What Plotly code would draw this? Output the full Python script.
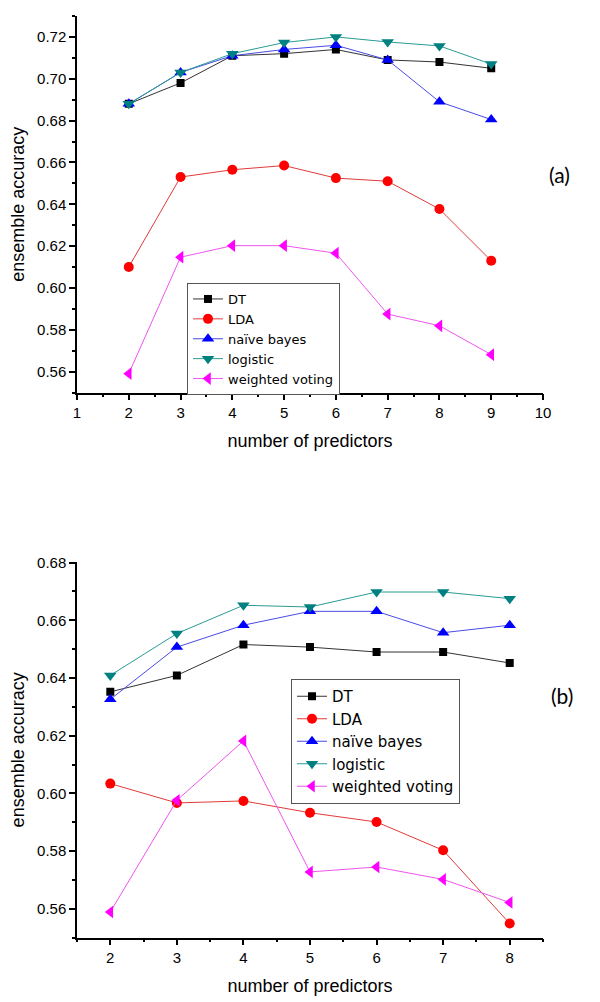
import plotly.graph_objects as go

# ---------------- data ----------------
series_names = ["DT", "LDA", "naïve bayes", "logistic", "weighted voting"]

# panel (a)
x_a = [2, 3, 4, 5, 6, 7, 8, 9]
dt_a = [0.688, 0.698, 0.711, 0.712, 0.714, 0.709, 0.708, 0.705]
lda_a = [0.610, 0.653, 0.6565, 0.6585, 0.6525, 0.651, 0.6377, 0.613]
nb_a = [0.688, 0.703, 0.711, 0.714, 0.716, 0.709, 0.689, 0.6805]
log_a = [0.688, 0.703, 0.712, 0.7173, 0.720, 0.7176, 0.7157, 0.707]
wv_a = [0.559, 0.6147, 0.6202, 0.6202, 0.6166, 0.5875, 0.5819, 0.5681]

# panel (b)
x_b = [2, 3, 4, 5, 6, 7, 8]
dt_b = [0.6352, 0.6409, 0.6516, 0.6507, 0.649, 0.649, 0.6452]
lda_b = [0.6034, 0.5967, 0.5974, 0.5933, 0.5901, 0.5803, 0.5549]
nb_b = [0.6326, 0.6507, 0.6583, 0.6631, 0.6631, 0.6557, 0.6583]
log_b = [0.6409, 0.6554, 0.6652, 0.6646, 0.6698, 0.6698, 0.6675]
wv_b = [0.5589, 0.5976, 0.6182, 0.5728, 0.5745, 0.5702, 0.5622]

panel_labels = ["(a)", "(b)"]
x_title = "number of predictors"
y_title = "ensemble accuracy"

# ---------------- styles ----------------
line_colors = ["#333333", "#e03a3a", "#4a4ae6", "#2a9a94", "#ee55ee"]
marker_colors = ["#000000", "#ff0000", "#0000ff", "#008080", "#ff00ff"]
symbols = ["square", "circle", "triangle-up", "triangle-down", "triangle-left"]
sizes = [8, 10, 11, 11, 11]

FONT = "Liberation Sans, Arial, sans-serif"
W, H = 600, 1002
OFF = 8  # default page body margin


def px_x(px):
    return (px - OFF) / W


def px_y(py):
    return 1 - (py - OFF) / H


fig = go.Figure()

panels = [
    (x_a, [dt_a, lda_a, nb_a, log_a, wv_a], "x", "y", "legend"),
    (x_b, [dt_b, lda_b, nb_b, log_b, wv_b], "x2", "y2", "legend2"),
]
for xs, ys_list, xa, ya, lg in panels:
    for i, ys in enumerate(ys_list):
        fig.add_trace(go.Scatter(
            x=xs, y=ys, mode="lines+markers", name=series_names[i],
            xaxis=xa, yaxis=ya, legend=lg,
            line=dict(color=line_colors[i], width=1),
            marker=dict(symbol=symbols[i], size=sizes[i], color=marker_colors[i],
                        line=dict(width=0)),
        ))

axis_common = dict(
    showline=True, linecolor="black", linewidth=1.5,
    ticks="outside", ticklen=6, tickwidth=1.5, tickcolor="black",
    showgrid=False, zeroline=False, mirror=False, automargin=False,
    tickfont=dict(family=FONT, size=15, color="black"),
    title_font=dict(family=FONT, size=18, color="black"),
)
minor_common = dict(ticks="outside", ticklen=3, tickwidth=1.5, tickcolor="black")

xdom = [px_x(77), px_x(543)]

fig.update_layout(
    width=W, height=H,
    margin=dict(l=0, r=0, t=0, b=0),
    paper_bgcolor="white", plot_bgcolor="white",
    xaxis=dict(**axis_common, domain=xdom, range=[1, 10],
               tick0=1, dtick=1, anchor="y",
               minor=dict(**minor_common, dtick=0.5, tick0=1),
               title=dict(text=x_title, standoff=14)),
    yaxis=dict(**axis_common, domain=[px_y(392.5), px_y(16)], range=[0.55, 0.73],
               tick0=0.56, dtick=0.02, tickformat=".2f", anchor="x",
               minor=dict(**minor_common, dtick=0.01, tick0=0.55),
               title=dict(text=y_title, standoff=11)),
    xaxis2=dict(**axis_common, domain=xdom, range=[1.5, 8.5],
                tick0=2, dtick=1, anchor="y2",
                minor=dict(**minor_common, dtick=0.5, tick0=1.5),
                title=dict(text=x_title, standoff=14)),
    yaxis2=dict(**axis_common, domain=[px_y(937.7), px_y(562)], range=[0.55, 0.6802],
                tick0=0.56, dtick=0.02, tickformat=".2f", anchor="x2",
                minor=dict(**minor_common, dtick=0.01, tick0=0.55),
                title=dict(text=y_title, standoff=11)),
    legend=dict(x=px_x(187), y=px_y(283), xanchor="left", yanchor="top",
                bgcolor="white", bordercolor="#555555", borderwidth=1,
                font=dict(family="DejaVu Sans", size=13, color="black"),
                tracegroupgap=0, itemsizing="trace"),
    legend2=dict(x=px_x(291), y=px_y(679), xanchor="left", yanchor="top",
                 bgcolor="white", bordercolor="#555555", borderwidth=1,
                 font=dict(family="DejaVu Sans", size=15, color="black"),
                 tracegroupgap=0, itemsizing="trace"),
    annotations=[
        dict(text=panel_labels[0], x=px_x(572), y=px_y(160), xref="paper", yref="paper",
             showarrow=False, font=dict(family="Lato", size=21, color="black")),
        dict(text=panel_labels[1], x=px_x(575), y=px_y(710), xref="paper", yref="paper",
             showarrow=False, font=dict(family="Lato", size=21, color="black")),
    ],
)

fig.write_html("out.html")
